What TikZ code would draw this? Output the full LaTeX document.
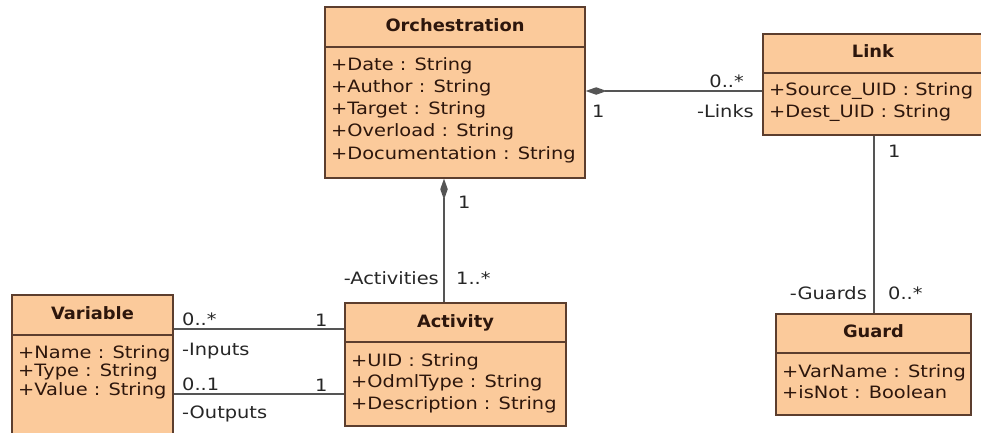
\documentclass[tikz,border=0pt]{standalone}
\usepackage{fontspec}
\setmainfont{DejaVu Sans}[FakeStretch=1.14]
\newfontfamily\ttlfont{DejaVu Sans}[FakeStretch=1.05]
\usetikzlibrary{arrows.meta,fit}
\definecolor{classfill}{RGB}{251,202,155}
\definecolor{classline}{RGB}{92,62,46}
\definecolor{classtext}{RGB}{45,22,12}
\definecolor{wire}{RGB}{85,85,85}
\begin{document}
\begin{tikzpicture}[x=1pt,y=-1pt,
  classbox/.style={draw=classline, fill=classfill, line width=1.4pt, inner sep=0pt},
  sepline/.style={draw=classline, line width=1.2pt},
  ttl/.style={font=\ttlfont\bfseries\fontsize{17}{20}\selectfont, text=classtext, inner sep=0pt, anchor=base},
  attr/.style={font=\fontsize{17}{20}\selectfont, text=classtext, inner sep=0pt, anchor=base west},
  lab/.style={font=\fontsize{17}{20}\selectfont, text=black!85, inner sep=0pt},
  assoc/.style={draw=wire, line width=1.4pt},
  comp/.style={assoc, {Diamond[length=21pt,width=7.5pt,fill=wire]}-}]
\useasboundingbox (0,0) rectangle (981,432);
\clip (0,0) rectangle (981,432);
\fill[white] (0,0) rectangle (981,432);

% Orchestration
\node[classbox, fit={(325,7) (585,178)}] (orch) {};
\draw[sepline] (orch.west |- 0,47) -- (orch.east |- 0,47);
\node[ttl] (orch-title) at (455,31) {Orchestration};
\foreach \t [count=\i] in {+Date : String, +Author : String, +Target : String, +Overload : String, +Documentation : String}
  \node[attr] (orch-a\i) at (331,{70+(\i-1)*22.25}) {\t};

% Link (runs past the right edge)
\node[classbox, fit={(763,34) (992,135)}] (link) {};
\draw[sepline] (link.west |- 0,73) -- (link.east |- 0,73);
\node[ttl] (link-title) at (873,57) {Link};
\foreach \t [count=\i] in {+Source\_UID : String, +Dest\_UID : String}
  \node[attr] (link-a\i) at (769,{95+(\i-1)*22}) {\t};

% Guard
\node[classbox, fit={(776,314) (971,415)}] (guard) {};
\draw[sepline] (guard.west |- 0,353) -- (guard.east |- 0,353);
\node[ttl] (guard-title) at (873.5,337) {Guard};
\foreach \t [count=\i] in {+VarName : String, +isNot : Boolean}
  \node[attr] (guard-a\i) at (782,{377+(\i-1)*21}) {\t};

% Activity
\node[classbox, fit={(345,303) (566,426)}] (act) {};
\draw[sepline] (act.west |- 0,342) -- (act.east |- 0,342);
\node[ttl] (act-title) at (455.5,327) {Activity};
\foreach \t [count=\i] in {+UID : String, +OdmlType : String, +Description : String}
  \node[attr] (act-a\i) at (351,{366+(\i-1)*21.5}) {\t};

% Variable (runs past the bottom edge)
\node[classbox, fit={(12,295) (173,445)}] (var) {};
\draw[sepline] (var.west |- 0,335) -- (var.east |- 0,335);
\node[ttl] (var-title) at (92.5,319) {Variable};
\foreach \t [count=\i] in {+Name : String, +Type : String, +Value : String}
  \node[attr] (var-a\i) at (18,{358+(\i-1)*18.5}) {\t};

% Associations
\draw[comp] (orch.east |- 0,91) -- (link.west |- 0,91);
\draw[comp] (orch.south -| 444,0) -- (act.north -| 444,0);
\draw[assoc] (link.south -| 874,0) -- (guard.north -| 874,0);
\draw[assoc] (var.east |- 0,329) -- (act.west |- 0,329);
\draw[assoc] (var.east |- 0,394) -- (act.west |- 0,394);

% Role names and multiplicities
\node[lab, anchor=base west] (m-ol-1) at (592,117) {1};
\node[lab, anchor=base east] (m-ol-2) at (744,87) {0..*};
\node[lab, anchor=base east] (r-links) at (754,117) {-Links};
\node[lab, anchor=base west] (m-lg-1) at (888,157) {1};
\node[lab, anchor=base east] (r-guards) at (867,299) {-Guards};
\node[lab, anchor=base west] (m-lg-2) at (888,299) {0..*};
\node[lab, anchor=base west] (m-oa-1) at (458,208) {1};
\node[lab, anchor=base east] (r-acts) at (439,284) {-Activities};
\node[lab, anchor=base west] (m-oa-2) at (456,284) {1..*};
\node[lab, anchor=base west] (m-in-1) at (182,325) {0..*};
\node[lab, anchor=base west] (r-in) at (182,355) {-Inputs};
\node[lab, anchor=base west] (m-out-1) at (182,390) {0..1};
\node[lab, anchor=base west] (r-out) at (182,418) {-Outputs};
\node[lab, anchor=base west] (m-in-2) at (315,326) {1};
\node[lab, anchor=base west] (m-out-2) at (315,391) {1};
\end{tikzpicture}
\end{document}
